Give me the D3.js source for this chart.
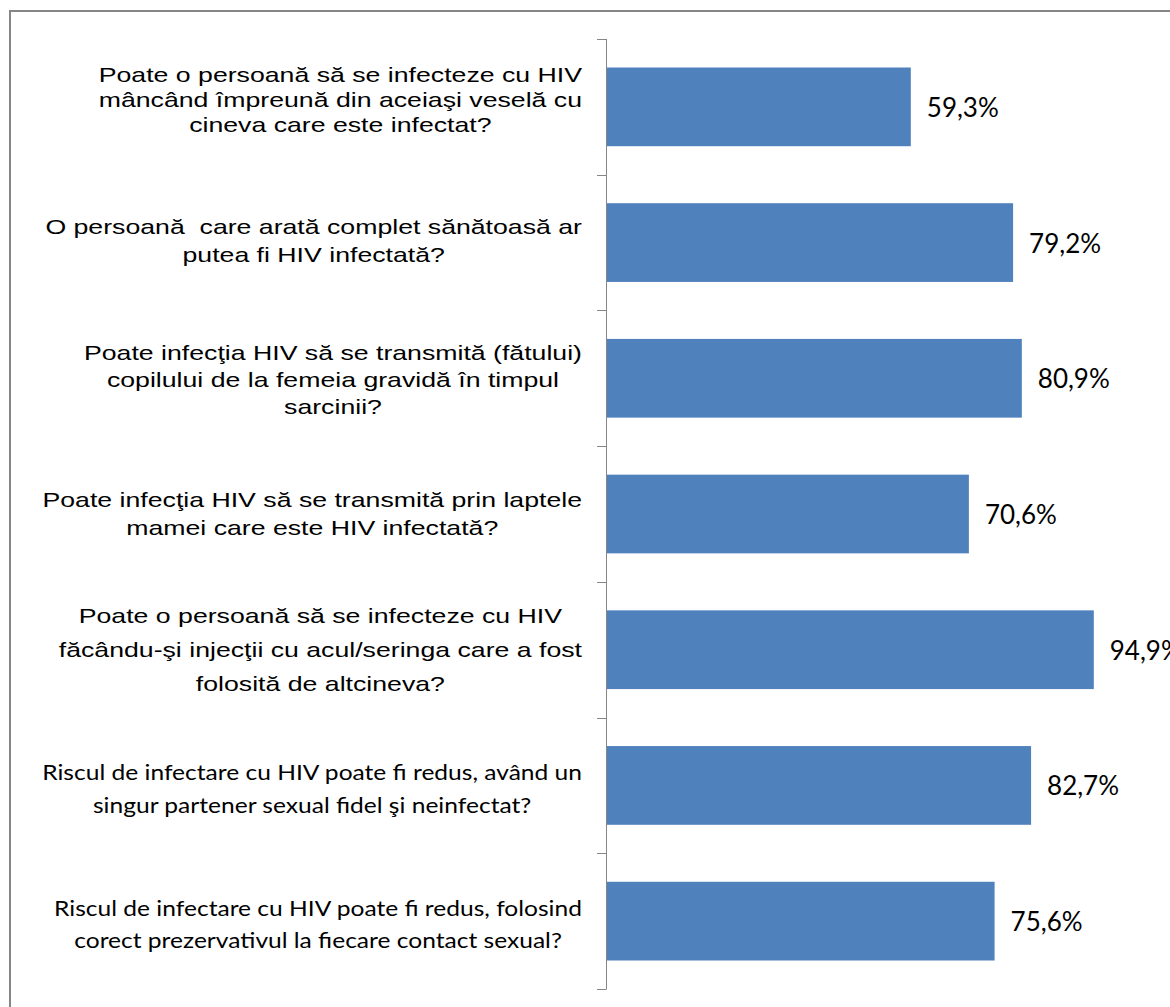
<!DOCTYPE html>
<html>
<head>
<meta charset="utf-8">
<script src="https://cdn.jsdelivr.net/npm/d3@7"></script>
<style>
  html, body { margin: 0; padding: 0; background: #fff; }
  svg { display: block; }
  text { white-space: pre; }
</style>
</head>
<body>
<svg id="chart" width="1170" height="1007"></svg>
<script>
// ---- data ----
const categories = [
  ["Poate o persoană să se infecteze cu HIV", "mâncând împreună din aceiaşi veselă cu", "cineva care este infectat?"],
  ["O persoană  care arată complet sănătoasă ar", "putea fi HIV infectată?"],
  ["Poate infecţia HIV să se transmită (fătului)", "copilului de la femeia gravidă în timpul", "sarcinii?"],
  ["Poate infecţia HIV să se transmită prin laptele", "mamei care este HIV infectată?"],
  ["Poate o persoană să se infecteze cu HIV", "făcându-şi injecţii cu acul/seringa care a fost", "folosită de altcineva?"],
  ["Riscul de infectare cu HIV poate fi redus, având un", "singur partener sexual fidel şi neinfectat?"],
  ["Riscul de infectare cu HIV poate fi redus, folosind", "corect prezervativul la fiecare contact sexual?"]
];
const values = [59.3, 79.2, 80.9, 70.6, 94.9, 82.7, 75.6];
const valueLabels = ["59,3%", "79,2%", "80,9%", "70,6%", "94,9%", "82,7%", "75,6%"];
const labelStyle = ["arial", "arial", "arial", "arial", "arial", "calibri", "calibri"];

// label text-box layout (offset of block centre from band centre, line spacing)
const labelLayout = [
  { dy: -7, lh: 25 }, { dy: -1.5, lh: 28 }, { dy: 1.5, lh: 27 }, { dy: 0, lh: 28 },
  { dy: -0.5, lh: 34 }, { dy: 3, lh: 33 }, { dy: 3, lh: 32 }
];

// ---- layout ----
const svg = d3.select("#chart");
const axisX = 606, plotTop = 39, plotBottom = 989;
const x = d3.scaleLinear().domain([0, 100]).range([axisX, axisX + 514]);
const idx = d3.range(categories.length);
const y = d3.scaleBand().domain(idx).range([plotTop, plotBottom]).paddingInner(0.42).paddingOuter(0.21);
const band = d3.scaleBand().domain(idx).range([plotTop, plotBottom]);

// frame
svg.append("rect")
  .attr("x", 10).attr("y", 11).attr("width", 1200).attr("height", 1100)
  .attr("fill", "none").attr("stroke", "#868686").attr("stroke-width", 2);

// bars
svg.append("g").selectAll("rect").data(values).join("rect")
  .attr("x", x(0))
  .attr("y", (d, i) => y(i))
  .attr("width", d => x(d) - x(0))
  .attr("height", y.bandwidth())
  .attr("fill", "#4F81BD");

// axis line and ticks
const ag = svg.append("g");
ag.append("line").attr("x1", axisX + 0.5).attr("x2", axisX + 0.5).attr("y1", plotTop).attr("y2", plotBottom)
  .attr("stroke", "#868686").attr("stroke-width", 1);
const tickYs = idx.map(i => band(i)).concat([plotBottom]);
ag.selectAll("line.tick").data(tickYs).join("line").attr("class", "tick")
  .attr("x1", axisX - 9).attr("x2", axisX + 0.5)
  .attr("y1", d => Math.round(d) + 0.5).attr("y2", d => Math.round(d) + 0.5)
  .attr("stroke", "#868686").attr("stroke-width", 1);

// category labels
const fonts = {
  arial: { family: "'Liberation Sans', Arial, sans-serif", size: 21, sx: 1.27 },
  calibri: { family: "Lato, 'Open Sans', sans-serif", size: 21, sx: 1.17 }
};
const labelRight = 582;
categories.forEach((lines, i) => {
  const f = fonts[labelStyle[i]];
  const L = labelLayout[i];
  const g = svg.append("g")
    .attr("transform", `translate(${labelRight},0) scale(${f.sx},1) translate(${-labelRight},0)`);
  const cy = band(i) + band.bandwidth() / 2 + L.dy;
  const n = lines.length;
  const texts = g.selectAll("text").data(lines).join("text")
    .attr("font-family", f.family)
    .attr("font-size", f.size)
    .attr("fill", "#000")
    .attr("text-anchor", "middle")
    .attr("dominant-baseline", "central")
    .attr("y", (d, j) => cy + (j - (n - 1) / 2) * L.lh)
    .text(d => d);
  let maxW = 0;
  texts.each(function () { maxW = Math.max(maxW, this.getComputedTextLength()); });
  texts.attr("x", labelRight - maxW / 2);
});

// value labels
svg.append("g").selectAll("text").data(values).join("text")
  .attr("x", d => x(d) + 16)
  .attr("y", (d, i) => y(i) + y.bandwidth() / 2)
  .attr("dominant-baseline", "central")
  .attr("font-family", "Lato, 'Open Sans', sans-serif")
  .attr("font-size", 26)
  .attr("fill", "#000")
  .text((d, i) => valueLabels[i]);
</script>
</body>
</html>
